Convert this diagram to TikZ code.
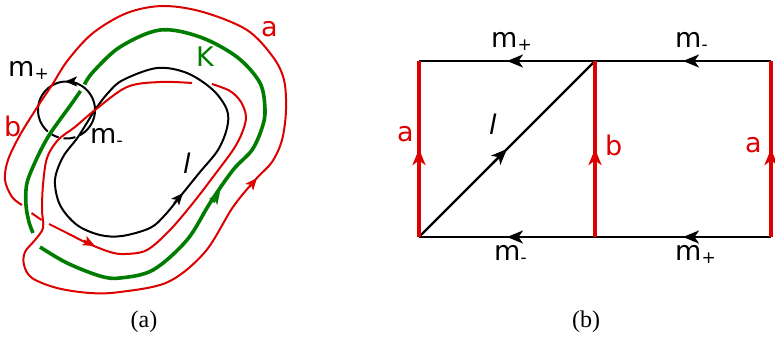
\documentclass[tikz,border=0pt]{standalone}
\usepackage{fontspec}
\setmainfont{Liberation Serif}
\newfontfamily\lblfont{DejaVu Sans}
\usetikzlibrary{arrows.meta,calc}
\definecolor{kred}{RGB}{220,0,0}
\definecolor{kgreen}{RGB}{0,125,0}
\newcommand{\mplus}{m\raisebox{-3pt}{\fontsize{17}{17}\selectfont +}}
\newcommand{\mminus}{m\raisebox{-3pt}{\fontsize{17}{17}\selectfont -}}
\begin{document}
\begin{tikzpicture}[x=1pt,y=-1pt,
  redA/.style={draw=kred, line width=2pt},
  greenA/.style={draw=kgreen, line width=3.6pt},
  blackA/.style={draw=black, line width=2pt},
  redB/.style={draw=kred, line width=3.2pt},
  blackB/.style={draw=black, line width=2.4pt},
  tipA/.style={-{Stealth[length=12pt,width=10pt,inset=3pt]}},
  tipB/.style={-{Stealth[length=16pt,width=13pt,inset=4.5pt]}},
  lbl/.style={font=\lblfont\fontsize{27}{32}\selectfont, inner sep=0pt, anchor=base west},
  captext/.style={font=\fontsize{24}{28}\selectfont, inner sep=0pt}
]
\useasboundingbox (0,0) rectangle (775,339);

% ---------------- (a) ----------------
% meridian circle (broken where it passes under)
\draw[blackA] plot[domain=298:589, samples=80] ({66.5+28.5*cos(\x)},{110-28.5*sin(\x)});
\draw[blackA] plot[domain=239:254, samples=8] ({66.5+28.5*cos(\x)},{110-28.5*sin(\x)});
\draw[blackA] plot[domain=264:288, samples=10] ({66.5+28.5*cos(\x)},{110-28.5*sin(\x)});
\draw[blackA,tipA] plot[domain=68:93, samples=6] ({66.5+28.5*cos(\x)},{110-28.5*sin(\x)});

% longitude l
\draw[blackA] plot[smooth cycle, tension=0.55] coordinates {
 (95,110) (108,93) (123,80) (157,68) (187,73) (213,90) (227,110) (227,128)
 (218,150) (200,172) (183,193) (165,215) (150,228) (122,236) (100,235)
 (77,225) (60,205) (55,180) (63,157) (78,137)};
\draw[blackA,tipA] (174,203.5) -- (183,193);

% knot K
\draw[greenA] plot[smooth, tension=0.55] coordinates {
 (80.5,91) (70,106) (59,121) (48,137) (37,158) (27,183) (26,205) (29,222) (33,233)};
\draw[greenA] plot[smooth, tension=0.55] coordinates {
 (40,247) (67,263) (100,276) (120,278) (153,270) (187,240) (210,203) (233,170)
 (252,150) (262,128) (265,110) (260,83) (237,57) (200,37) (160,30) (120,47)
 (93,72) (84.5,84.5)};
\draw[greenA,tipA] (213,202) -- (220,192);

% curve a + b
\draw[redA] (31.5,213) -- (41.5,220);
\draw[redA] plot[smooth, tension=0.55] coordinates {
 (49,224) (67,233) (87,243) (110,252) (125,254) (147,250) (170,230) (193,203)
 (213,177) (233,150) (242,133) (246,117) (241,102) (230,91) (212,84)};
\draw[redA] plot[smooth, tension=0.55] coordinates {
 (192,83) (160,82) (127,87) (95,110) (75,127) (58,140) (47,158) (43,185)
 (42,210) (43,228) (35,240) (25,252) (24,265) (32,278) (57,288) (90,293)
 (120,292) (168,282) (205,252) (233,207) (256,179) (272,162) (282,140)
 (286,110) (284,80) (273,57) (247,30) (203,12) (163,6) (127,13) (93,33)
 (68,60) (52,85) (38,106) (20,135) (8,160) (5,180) (12,197) (22,205)};
\draw[redA,tipA] (84,240.5) -- (95,246);
\draw[redA,tipA] (249,187.5) -- (257,178);

\node[lbl, text=kred] (la) at (261,37) {a};
\node[lbl, text=kgreen] (lK) at (196,67) {K};
\node[lbl] (lmp) at (8,77) {\mplus};
\node[lbl] (lmm) at (90,143) {\mminus};
\node[lbl, text=kred] (lb) at (4,137) {b};
\node[lbl, font=\lblfont\itshape\fontsize{27}{32}\selectfont] (ll) at (183,173) {l};
\node[captext] (capa) at (144,322) {(a)};

% ---------------- (b) ----------------
\coordinate (TL) at (419,61);
\coordinate (TM) at (595,61);
\coordinate (TR) at (771,61);
\coordinate (BL) at (419,237);
\coordinate (BM) at (595,237);
\coordinate (BR) at (771,237);

\draw[blackB] (TL) -- (TR);
\draw[blackB] (BL) -- (BR);
\draw[blackB] (BL) -- (TM);
\draw[blackB,tipB] ($(TM)!0.42!(TL)$) -- ($(TM)!0.5!(TL)$);
\draw[blackB,tipB] ($(TR)!0.42!(TM)$) -- ($(TR)!0.5!(TM)$);
\draw[blackB,tipB] ($(BM)!0.42!(BL)$) -- ($(BM)!0.5!(BL)$);
\draw[blackB,tipB] ($(BR)!0.42!(BM)$) -- ($(BR)!0.5!(BM)$);
\draw[blackB,tipB] ($(BL)!0.42!(TM)$) -- ($(BL)!0.5!(TM)$);

\draw[redB] (BL) -- (TL);
\draw[redB] (BM) -- (TM);
\draw[redB] (BR) -- (TR);
\draw[redB,tipB] ($(BL)!0.42!(TL)$) -- ($(BL)!0.5!(TL)$);
\draw[redB,tipB] ($(BM)!0.42!(TM)$) -- ($(BM)!0.5!(TM)$);
\draw[redB,tipB] ($(BR)!0.42!(TR)$) -- ($(BR)!0.5!(TR)$);

\node[lbl] (bmp1) at (491,48) {\mplus};
\node[lbl] (bmm1) at (675,48) {\mminus};
\node[lbl] (bmm2) at (494,260) {\mminus};
\node[lbl] (bmp2) at (675,260) {\mplus};
\node[lbl, text=kred] (ba1) at (397,142) {a};
\node[lbl, text=kred] (bb) at (605,155) {b};
\node[lbl, text=kred] (ba2) at (745,153) {a};
\node[lbl, font=\lblfont\itshape\fontsize{27}{32}\selectfont] (bl) at (489,135) {l};
\node[captext] (capb) at (586,322) {(b)};
\end{tikzpicture}
\end{document}
